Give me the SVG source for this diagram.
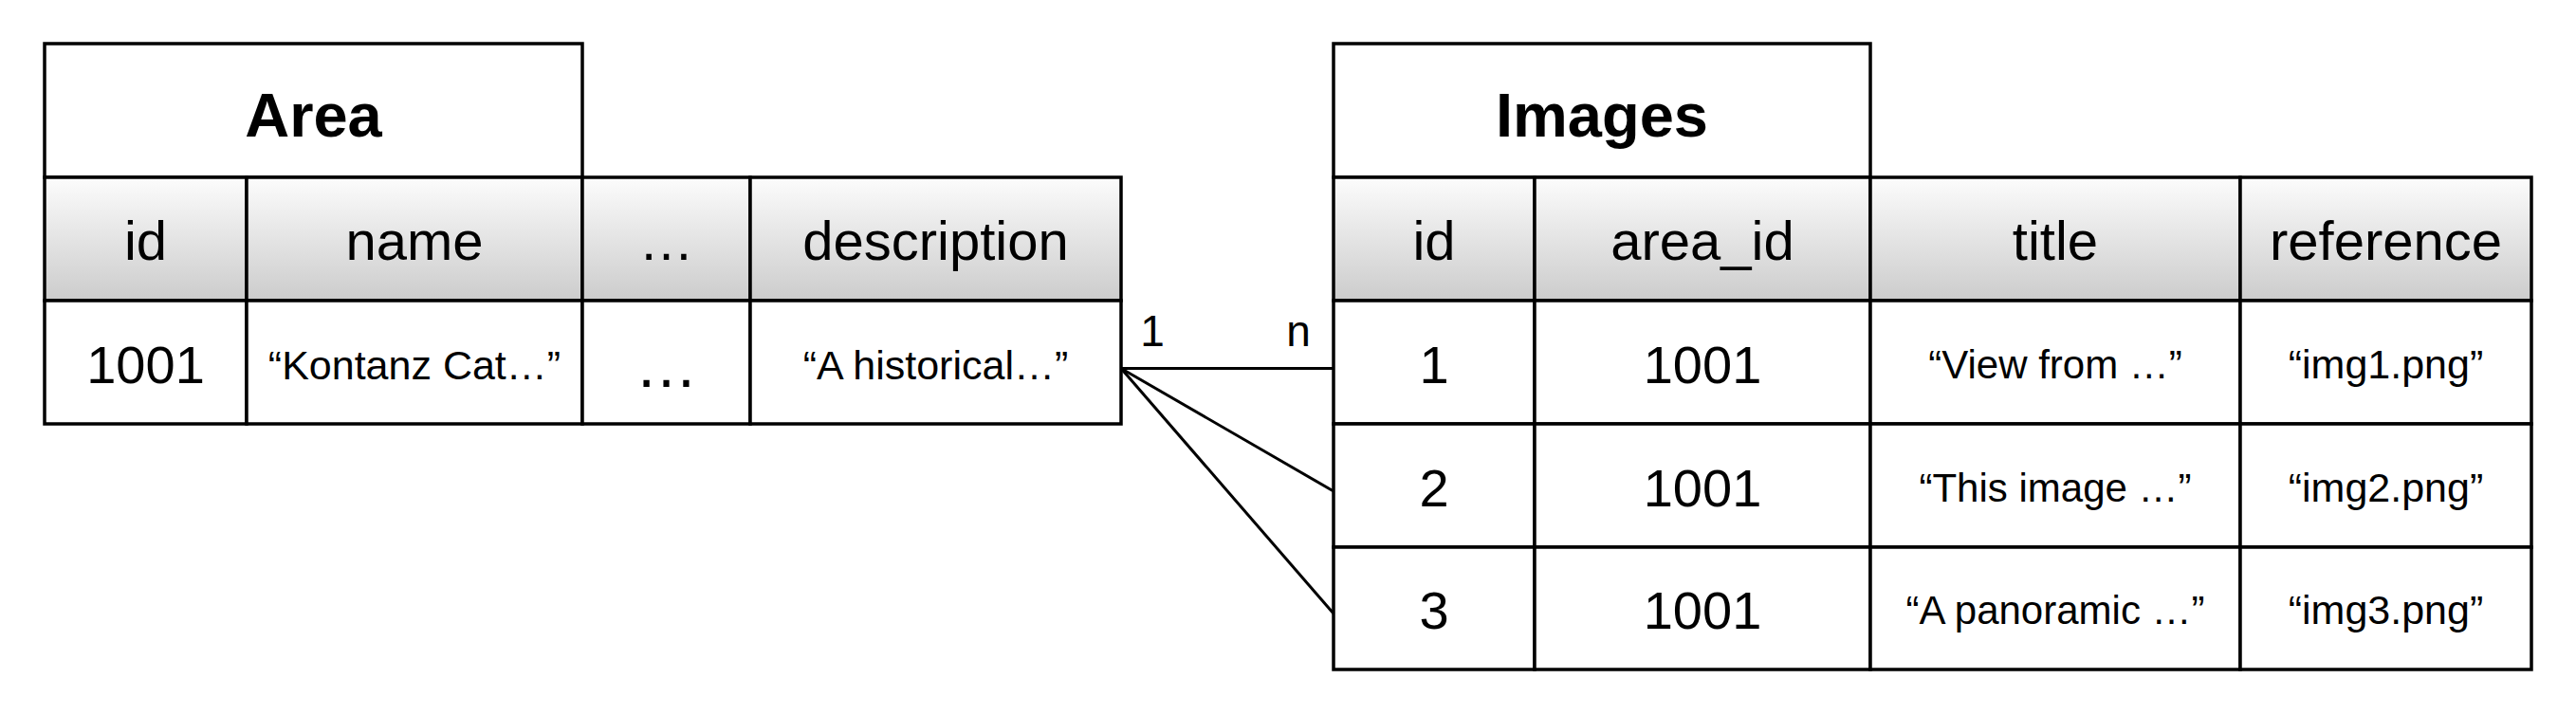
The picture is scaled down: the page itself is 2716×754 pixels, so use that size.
<svg xmlns="http://www.w3.org/2000/svg" width="2716" height="754" viewBox="0 0 2716 754">
<defs>
<linearGradient id="hdr" x1="0" y1="0" x2="0" y2="1">
<stop offset="0" stop-color="#fcfcfc"/>
<stop offset="1" stop-color="#cccccc"/>
</linearGradient>
</defs>
<style>
.cell{fill:#ffffff;stroke:#000;stroke-width:3.5}
.hcell{fill:url(#hdr);stroke:#000;stroke-width:3.5}
text{font-family:"Liberation Sans",Arial,Helvetica,sans-serif;fill:#000;text-anchor:middle}
.title{font-size:65px;font-weight:bold}
.hd{font-size:58px}
.num{font-size:56px}
.sm{font-size:43px}
.smi{font-size:42px}
.ref{font-size:43px}
.conn{stroke:#000;stroke-width:3;fill:none}
.card{font-size:46px}
</style>
<rect width="2716" height="754" fill="#ffffff"/>
<g id="area">
<rect class="cell" x="47" y="46" width="567" height="141"/>
<text class="title" x="330.5" y="144">Area</text>
<rect class="hcell" x="47" y="187" width="213" height="130"/>
<rect class="hcell" x="260" y="187" width="354" height="130"/>
<rect class="hcell" x="614" y="187" width="177" height="130"/>
<rect class="hcell" x="791" y="187" width="391" height="130"/>
<text class="hd" x="153.5" y="274">id</text>
<text class="hd" x="437" y="274">name</text>
<text class="hd" x="702.5" y="274">…</text>
<text class="hd" x="986.5" y="274">description</text>
<rect class="cell" x="47" y="317" width="213" height="130"/>
<rect class="cell" x="260" y="317" width="354" height="130"/>
<rect class="cell" x="614" y="317" width="177" height="130"/>
<rect class="cell" x="791" y="317" width="391" height="130"/>
<text class="num" x="153.5" y="404">1001</text>
<text class="sm" x="437" y="400">“Kontanz Cat…”</text>
<text x="702.5" y="408" style="font-size:66px">…</text>
<text class="sm" x="986.5" y="400">“A historical…”</text>
</g>
<g id="images">
<rect class="cell" x="1406" y="46" width="566" height="141"/>
<text class="title" x="1689" y="144">Images</text>
<rect class="hcell" x="1406" y="187" width="212" height="130"/>
<rect class="hcell" x="1618" y="187" width="354" height="130"/>
<rect class="hcell" x="1972" y="187" width="390" height="130"/>
<rect class="hcell" x="2362" y="187" width="307" height="130"/>
<text class="hd" x="1512" y="274">id</text>
<text class="hd" x="1795" y="274">area_id</text>
<text class="hd" x="2167" y="274">title</text>
<text class="hd" x="2515.5" y="274">reference</text>
<rect class="cell" x="1406" y="317" width="212" height="130"/>
<rect class="cell" x="1618" y="317" width="354" height="130"/>
<rect class="cell" x="1972" y="317" width="390" height="130"/>
<rect class="cell" x="2362" y="317" width="307" height="130"/>
<rect class="cell" x="1406" y="447" width="212" height="130"/>
<rect class="cell" x="1618" y="447" width="354" height="130"/>
<rect class="cell" x="1972" y="447" width="390" height="130"/>
<rect class="cell" x="2362" y="447" width="307" height="130"/>
<rect class="cell" x="1406" y="577" width="212" height="129"/>
<rect class="cell" x="1618" y="577" width="354" height="129"/>
<rect class="cell" x="1972" y="577" width="390" height="129"/>
<rect class="cell" x="2362" y="577" width="307" height="129"/>
<text class="num" x="1512" y="404">1</text>
<text class="num" x="1795" y="404">1001</text>
<text class="smi" x="2167" y="399">“View from …”</text>
<text class="ref" x="2515.5" y="399">“img1.png”</text>
<text class="num" x="1512" y="534">2</text>
<text class="num" x="1795" y="534">1001</text>
<text class="smi" x="2167" y="529">“This image …”</text>
<text class="ref" x="2515.5" y="529">“img2.png”</text>
<text class="num" x="1512" y="663">3</text>
<text class="num" x="1795" y="663">1001</text>
<text class="smi" x="2167" y="658">“A panoramic …”</text>
<text class="ref" x="2515.5" y="658">“img3.png”</text>
</g>
<g id="connectors">
<line class="conn" x1="1182" y1="388.5" x2="1406" y2="388.5"/>
<line class="conn" x1="1182" y1="388.5" x2="1406" y2="518"/>
<line class="conn" x1="1182" y1="388.5" x2="1406" y2="647"/>
<text class="card" x="1215" y="365">1</text>
<text class="card" x="1369" y="365">n</text>
</g>
</svg>
